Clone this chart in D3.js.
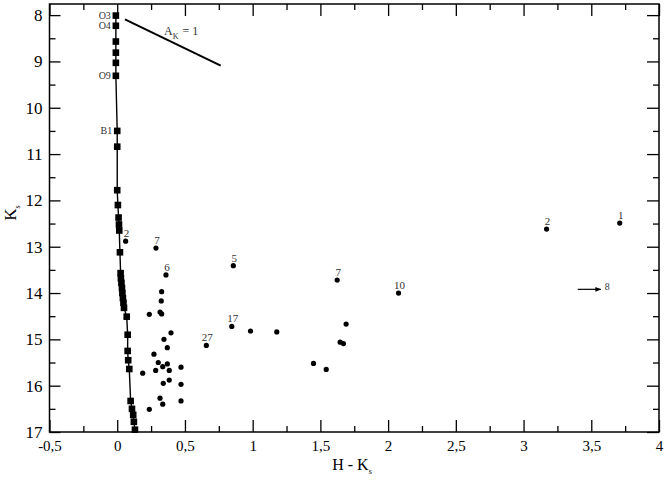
<!DOCTYPE html>
<html lang="en">
<head>
  <meta charset="utf-8">
  <title>Colour-magnitude diagram</title>
  <script src="https://d3js.org/d3.v7.min.js"></script>
  <style>
    body { margin: 0; background: #fff; }
  </style>
</head>
<body>
<div id="chart"></div>
<script>
  // main sequence (squares), H-Ks and Ks
  var msColor = [-0.01, -0.01, -0.01, -0.01, -0.01, -0.01, 0.0, 0.0, 0.0, 0.005, 0.01, 0.013, 0.015,
    0.02, 0.025, 0.027, 0.031, 0.035, 0.038, 0.042, 0.046, 0.05, 0.07, 0.077, 0.077, 0.081, 0.089,
    0.099, 0.109, 0.118, 0.123, 0.131];
  var msMag = [8.01, 8.23, 8.57, 8.81, 9.03, 9.31, 10.5, 10.84, 11.78, 12.1, 12.37, 12.52, 12.65,
    13.12, 13.57, 13.68, 13.78, 13.89, 14.0, 14.11, 14.21, 14.32, 14.51, 14.9, 15.25, 15.45, 15.64,
    16.33, 16.5, 16.63, 16.78, 16.95];
  var spTypes = ["O3", "O4", "O9", "B1"];
  var spIndex = [0, 1, 5, 6];

  // field stars without number
  var starColor = [0.328, 0.325, 0.237, 0.316, 0.328, 0.397, 0.345, 0.37, 0.271, 0.303, 0.37, 0.336,
    0.471, 0.284, 0.384, 0.188, 0.384, 0.34, 0.471, 0.316, 0.336, 0.471, 0.237, 0.984, 1.178, 1.69,
    1.646, 1.67, 1.449, 1.543];
  var starMag = [13.97, 14.17, 14.46, 14.41, 14.45, 14.86, 15.0, 15.18, 15.32, 15.5, 15.53, 15.59,
    15.6, 15.67, 15.67, 15.73, 15.88, 15.95, 15.97, 16.27, 16.4, 16.33, 16.51, 14.82, 14.84, 14.67,
    15.06, 15.09, 15.52, 15.65];

  // numbered stars
  var idText = ["1", "2", "2", "5", "6", "7", "7", "10", "17", "27"];
  var idColor = [3.71, 3.17, 0.062, 0.857, 0.36, 0.286, 1.624, 2.077, 0.846, 0.658];
  var idMag = [12.49, 12.62, 12.88, 13.41, 13.61, 13.03, 13.72, 14.0, 14.72, 15.13];

  // star 8 is off the plot: arrow
  var arrow8 = { x0: 3.40, x1: 3.57, k: 13.92, text: "8" };
  // reddening vector A_K = 1
  var redVec = { x0: 0.057, k0: 8.09, x1: 0.764, k1: 9.09 };

  var xTicks = [-0.5, 0, 0.5, 1, 1.5, 2, 2.5, 3, 3.5, 4];
  var xMinor = [-0.25, 0.25, 0.75, 1.25, 1.75, 2.25, 2.75, 3.25, 3.75];
  var yTicks = [8, 9, 10, 11, 12, 13, 14, 15, 16, 17];
  var yMinor = [8.5, 9.5, 10.5, 11.5, 12.5, 13.5, 14.5, 15.5, 16.5];

  var width = 668, height = 480;
  var plot = { left: 49.5, right: 659, top: 4, bottom: 432 };
  var serif = "Liberation Serif";

  var svg = d3.select("#chart").append("svg")
    .attr("width", width)
    .attr("height", height)
    .attr("font-family", serif);

  var x = d3.scaleLinear().domain([-0.5, 4]).range([plot.left, plot.right]);
  var y = d3.scaleLinear().domain([7.76, 17]).range([plot.top, plot.bottom]);

  var fmt = function(d) { return String(d).replace(".", ","); };

  // axes, ticks pointing inside
  var gx = svg.append("g").attr("transform", "translate(0," + plot.bottom + ")")
    .call(d3.axisBottom(x).tickValues(xTicks).tickSize(-12).tickPadding(8).tickFormat(fmt));
  gx.attr("font-size", 15);
  svg.append("g").attr("transform", "translate(0," + plot.bottom + ")")
    .call(d3.axisBottom(x).tickValues(xMinor).tickSize(-6).tickFormat(""));
  svg.append("g").attr("transform", "translate(0," + plot.top + ")")
    .call(d3.axisTop(x).tickValues(xTicks).tickSize(-12).tickFormat(""));
  svg.append("g").attr("transform", "translate(0," + plot.top + ")")
    .call(d3.axisTop(x).tickValues(xMinor).tickSize(-6).tickFormat(""));

  var gy = svg.append("g").attr("transform", "translate(" + plot.left + ",0)")
    .call(d3.axisLeft(y).tickValues(yTicks).tickSize(-11).tickPadding(7));
  gy.attr("font-size", 17);
  svg.append("g").attr("transform", "translate(" + plot.left + ",0)")
    .call(d3.axisLeft(y).tickValues(yMinor).tickSize(-6).tickFormat(""));
  svg.append("g").attr("transform", "translate(" + plot.right + ",0)")
    .call(d3.axisRight(y).tickValues(yTicks).tickSize(-12).tickFormat(""));
  svg.append("g").attr("transform", "translate(" + plot.right + ",0)")
    .call(d3.axisRight(y).tickValues(yMinor).tickSize(-6).tickFormat(""));

  svg.selectAll(".domain").remove();
  svg.selectAll("g").attr("font-family", serif);
  svg.selectAll(".tick line").attr("stroke", "#000").attr("stroke-width", 1.3);
  svg.selectAll(".tick text").attr("fill", "#000");

  svg.append("rect")
    .attr("x", plot.left).attr("y", plot.top)
    .attr("width", plot.right - plot.left).attr("height", plot.bottom - plot.top)
    .attr("fill", "none").attr("stroke", "#000").attr("stroke-width", 1.5);

  // axis titles
  var xt = svg.append("text")
    .attr("x", 352).attr("y", 470)
    .attr("font-size", 16).attr("text-anchor", "middle");
  xt.append("tspan").text("H - K");
  xt.append("tspan").attr("font-size", 8).attr("dy", 4).text("s");

  var yt = svg.append("text")
    .attr("transform", "translate(16,213) rotate(-90)")
    .attr("font-size", 17).attr("text-anchor", "middle");
  yt.append("tspan").text("K");
  yt.append("tspan").attr("font-size", 8).attr("dy", 4).text("s");

  // main sequence line + squares
  var msData = msColor.map(function(c, i) { return { c: c, k: msMag[i] }; });
  var line = d3.line().x(function(d) { return x(d.c); }).y(function(d) { return y(d.k); });
  svg.append("path").datum(msData)
    .attr("d", line).attr("fill", "none").attr("stroke", "#000").attr("stroke-width", 1.4);
  svg.selectAll(".ms").data(msData).enter().append("rect")
    .attr("class", "ms")
    .attr("x", function(d) { return x(d.c) - 3.3; })
    .attr("y", function(d) { return y(d.k) - 3.3; })
    .attr("width", 6.6).attr("height", 6.6)
    .attr("fill", "#000");

  svg.selectAll(".sp").data(spTypes).enter().append("text")
    .attr("class", "sp")
    .attr("x", function(d, i) { return x(msColor[spIndex[i]]) - 5; })
    .attr("y", function(d, i) { return y(msMag[spIndex[i]]) + 3.5; })
    .attr("text-anchor", "end").attr("font-size", 10).attr("fill", "#333")
    .text(function(d) { return d; });

  // field stars
  svg.selectAll(".star").data(starColor).enter().append("circle")
    .attr("class", "star")
    .attr("cx", function(d) { return x(d); })
    .attr("cy", function(d, i) { return y(starMag[i]); })
    .attr("r", 2.6).attr("fill", "#000");

  svg.selectAll(".idstar").data(idColor).enter().append("circle")
    .attr("class", "idstar")
    .attr("cx", function(d) { return x(d); })
    .attr("cy", function(d, i) { return y(idMag[i]); })
    .attr("r", 2.6).attr("fill", "#000");

  svg.selectAll(".idlab").data(idText).enter().append("text")
    .attr("class", "idlab")
    .attr("x", function(d, i) { return x(idColor[i]) + 1; })
    .attr("y", function(d, i) { return y(idMag[i]) - 4; })
    .attr("text-anchor", "middle").attr("font-size", 11).attr("fill", "#333")
    .text(function(d) { return d; });

  // arrow for star 8
  svg.append("defs").append("marker")
    .attr("id", "head").attr("viewBox", "0 0 10 10")
    .attr("refX", 9).attr("refY", 5)
    .attr("markerWidth", 5).attr("markerHeight", 5)
    .attr("orient", "auto")
    .append("path").attr("d", "M0,1L10,5L0,9z").attr("fill", "#000");
  svg.append("line")
    .attr("x1", x(arrow8.x0)).attr("x2", x(arrow8.x1))
    .attr("y1", y(arrow8.k)).attr("y2", y(arrow8.k))
    .attr("stroke", "#000").attr("stroke-width", 1.2)
    .attr("marker-end", "url(#head)");
  svg.append("text")
    .attr("x", x(arrow8.x1) + 4).attr("y", y(arrow8.k) + 1)
    .attr("font-size", 10).attr("fill", "#333")
    .text(arrow8.text);

  // reddening vector
  svg.append("line")
    .attr("x1", x(redVec.x0)).attr("y1", y(redVec.k0))
    .attr("x2", x(redVec.x1)).attr("y2", y(redVec.k1))
    .attr("stroke", "#000").attr("stroke-width", 2);
  var rv = svg.append("text")
    .attr("x", 164).attr("y", 35)
    .attr("font-size", 12).attr("fill", "#333");
  rv.append("tspan").text("A");
  rv.append("tspan").attr("font-size", 8).attr("dy", 4).text("K");
  rv.append("tspan").attr("dy", -4).attr("dx", 4).text("= 1");
</script>
</body>
</html>
